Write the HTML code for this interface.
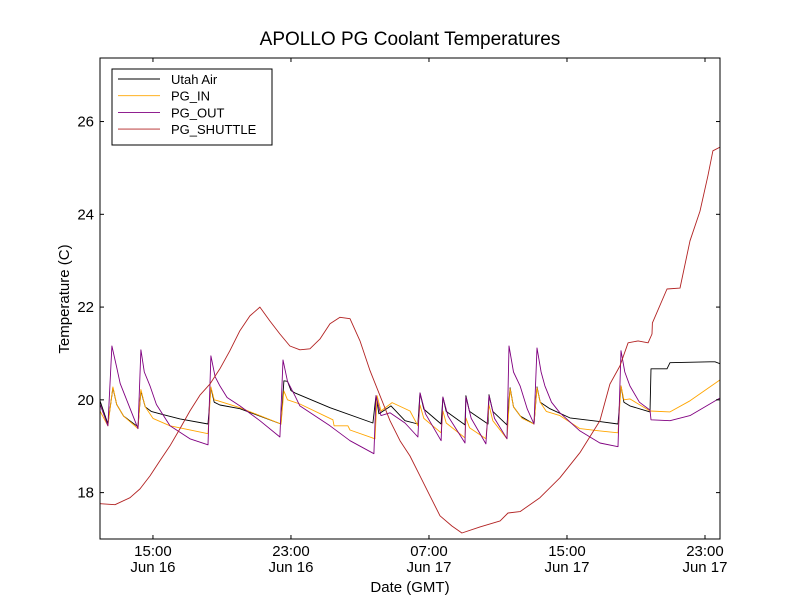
<!DOCTYPE html>
<html><head><meta charset="utf-8"><style>
body{margin:0;background:#fff}
svg text{font-family:"Liberation Sans","DejaVu Sans",sans-serif}
</style></head><body>
<svg id="chart" width="800" height="600" xmlns="http://www.w3.org/2000/svg">
<rect width="800" height="600" fill="#fff"/>
<text x="410" y="45" text-anchor="middle" font-size="19">APOLLO PG Coolant Temperatures</text>
<g id="plot"></g>
<text x="410" y="592" text-anchor="middle" font-size="15">Date (GMT)</text>
<text transform="translate(69,299) rotate(-90)" text-anchor="middle" font-size="15">Temperature (C)</text>
</svg>
<script>
// hours since Jun 16 00:00 GMT
const xTickHours=[15,23,31,39,47];
const xTickTime=["15:00","23:00","07:00","15:00","23:00"];
const xTickDate=["Jun 16","Jun 16","Jun 17","Jun 17","Jun 17"];
const yTicks=[18,20,22,24,26];
const seriesNames=["Utah Air","PG_IN","PG_OUT","PG_SHUTTLE"];
const utahT=[11.93,12.39,12.68,12.9,13.3,14.13,14.30,14.55,14.9,15.41,16.57,18.19,18.36,18.55,18.88,20.04,22.42,22.59,22.8,23.0,23.23,25.26,27.75,27.93,28.10,28.80,29.61,30.36,30.48,30.7,31.70,31.81,32.0,33.09,33.14,33.35,34.42,34.48,34.7,35.52,35.70,35.9,36.3,37.09,37.26,37.45,38.01,39.17,40.91,41.96,42.13,42.3,42.65,43.81,43.87,44.80,44.97,47.29,47.58,47.87];
const utahV=[19.98,19.48,20.26,19.9,19.65,19.42,20.19,19.85,19.75,19.70,19.59,19.48,20.26,19.95,19.89,19.81,19.48,20.41,20.4,20.2,20.15,19.83,19.50,20.09,19.70,19.87,19.55,19.48,20.15,19.8,19.48,20.06,19.75,19.46,20.09,19.75,19.48,20.11,19.75,19.46,20.26,19.85,19.65,19.48,20.28,19.95,19.81,19.61,19.53,19.48,20.30,19.95,19.87,19.74,20.67,20.67,20.80,20.82,20.82,20.78];
const inT=[11.93,12.39,12.68,12.9,13.3,14.13,14.30,14.55,15.0,15.99,18.19,18.36,18.55,18.77,20.04,22.42,22.59,22.8,23.52,25.43,25.50,26.30,26.42,27.87,27.99,28.22,28.86,29.90,30.36,30.48,30.7,31.70,31.81,32.0,33.09,33.14,33.35,34.30,34.48,34.7,35.52,35.70,35.9,36.4,37.09,37.26,37.45,37.8,38.59,39.75,40.91,41.96,42.13,42.3,42.65,43.81,44.97,46.13,47.87];
const inV=[19.76,19.44,20.28,19.9,19.65,19.38,20.22,19.85,19.6,19.44,19.27,20.28,20.0,19.98,19.83,19.48,20.19,20.0,19.91,19.57,19.44,19.44,19.35,19.16,20.09,19.76,19.94,19.76,19.44,19.89,19.6,19.29,19.76,19.5,19.18,19.61,19.4,19.16,19.89,19.55,19.16,20.24,19.85,19.6,19.48,20.26,19.95,19.75,19.66,19.38,19.33,19.29,20.30,20.0,20.02,19.76,19.74,19.98,20.43];
const outT=[11.93,12.39,12.62,12.9,13.1,13.38,14.13,14.30,14.5,14.83,15.2,15.99,17.14,18.19,18.36,18.6,18.88,19.3,20.04,21.20,22.36,22.54,22.8,23.23,23.52,25.26,26.42,27.81,27.93,28.22,28.74,29.61,30.36,30.48,30.8,31.70,31.81,32.1,33.09,33.14,33.45,34.30,34.48,34.8,35.52,35.64,35.9,36.28,36.7,37.09,37.26,37.5,37.72,38.1,38.59,39.75,40.91,41.96,42.13,42.35,42.65,43.2,43.81,43.87,44.97,46.13,47.87];
const outV=[19.91,19.44,21.16,20.7,20.35,20.09,19.38,21.08,20.6,20.30,19.9,19.44,19.16,19.03,20.95,20.5,20.30,20.05,19.87,19.55,19.20,20.86,20.4,20.09,19.87,19.44,19.12,18.84,20.09,19.66,19.72,19.50,19.20,20.15,19.7,19.12,20.06,19.65,19.07,20.06,19.6,19.05,20.09,19.6,19.16,21.16,20.6,20.30,19.8,19.48,21.12,20.6,20.30,19.95,19.72,19.33,19.07,18.99,21.06,20.6,20.30,19.95,19.78,19.57,19.55,19.66,20.04];
const shutT=[11.93,12.80,13.67,14.25,14.83,15.41,15.99,16.57,17.14,17.72,18.30,18.88,19.46,20.04,20.62,21.20,21.78,22.36,22.94,23.52,24.10,24.68,25.26,25.84,26.42,27.00,27.58,28.16,28.74,29.32,29.90,30.48,31.06,31.64,32.33,32.91,33.96,35.12,35.58,36.28,37.43,38.59,39.75,40.91,41.49,42.07,42.54,43.12,43.70,43.93,43.95,44.80,45.55,46.13,46.71,47.17,47.46,47.87];
const shutV=[17.76,17.74,17.89,18.08,18.36,18.69,19.01,19.38,19.76,20.10,20.34,20.67,21.06,21.49,21.81,22.00,21.70,21.42,21.16,21.08,21.10,21.31,21.64,21.78,21.75,21.27,20.63,20.09,19.55,19.12,18.79,18.36,17.93,17.50,17.28,17.13,17.26,17.39,17.56,17.59,17.89,18.32,18.86,19.55,20.34,20.73,21.23,21.27,21.23,21.42,21.66,22.39,22.41,23.43,24.07,24.83,25.37,25.45,25.26];
const L=100,R=720,T=58,B=539,X0=11.93,X1=47.87,Y0=17,Y1=27.37;
const xs=h=>L+(h-X0)/(X1-X0)*(R-L);
const ys=v=>B-(v-Y0)/(Y1-Y0)*(B-T);
const NS="http://www.w3.org/2000/svg";
const g=document.getElementById('plot');
function mk(tag,attrs){const e=document.createElementNS(NS,tag);for(const k in attrs)e.setAttribute(k,attrs[k]);return e;}
const clip=mk('clipPath',{id:'pc'});clip.appendChild(mk('rect',{x:L,y:T,width:R-L,height:B-T}));g.appendChild(clip);
const colors=["#000000","#FFA500","#800080","#B22222"];
const data=[[utahT,utahV],[inT,inV],[outT,outV],[shutT,shutV]];
const lineNames=["utah-air-line","pg-in-line","pg-out-line","pg-shuttle-line"];
data.forEach((d,i)=>{
  const pts=d[0].map((t,j)=>xs(t).toFixed(1)+','+ys(d[1][j]).toFixed(1)).join(' ');
  const p=mk('polyline',{points:pts,fill:'none',stroke:colors[i],'stroke-width':0.9,'stroke-linejoin':'round','clip-path':'url(#pc)'});
  
  
  g.appendChild(p);
});
const frame=mk('rect',{x:L,y:T,width:R-L,height:B-T,fill:'none',stroke:'#000','stroke-width':1});


g.appendChild(frame);
yTicks.forEach(v=>{
  const y=ys(v);
  g.appendChild(mk('line',{x1:L,x2:L+4,y1:y,y2:y,stroke:'#000'}));
  g.appendChild(mk('line',{x1:R-4,x2:R,y1:y,y2:y,stroke:'#000'}));
  const t=mk('text',{x:L-6,y:y+5,'text-anchor':'end','font-size':15});
  t.textContent=v;
  
  
  g.appendChild(t);
});
xTickHours.forEach((h,i)=>{
  const x=xs(h);
  g.appendChild(mk('line',{x1:x,x2:x,y1:B,y2:B-4,stroke:'#000'}));
  g.appendChild(mk('line',{x1:x,x2:x,y1:T,y2:T+4,stroke:'#000'}));
  const t=mk('text',{x:x,y:556,'text-anchor':'middle','font-size':15});
  t.textContent=xTickTime[i];
  
  
  g.appendChild(t);
  const t2=mk('text',{x:x,y:572,'text-anchor':'middle','font-size':15});
  t2.textContent=xTickDate[i];
  
  
  g.appendChild(t2);
});
const lg=mk('g',{});


lg.appendChild(mk('rect',{x:112,y:69,width:160,height:76,fill:'#fff',stroke:'#000','stroke-width':1}));
seriesNames.forEach((n,i)=>{
  const y=79+i*16.7;
  const e=mk('g',{});
  
  
  e.appendChild(mk('line',{x1:118,x2:160,y1:y,y2:y,stroke:colors[i],'stroke-width':0.9}));
  const t=mk('text',{x:171,y:y+5,'font-size':13});
  t.textContent=n;
  e.appendChild(t);
  lg.appendChild(e);
});
g.appendChild(lg);
</script>
</body></html>
